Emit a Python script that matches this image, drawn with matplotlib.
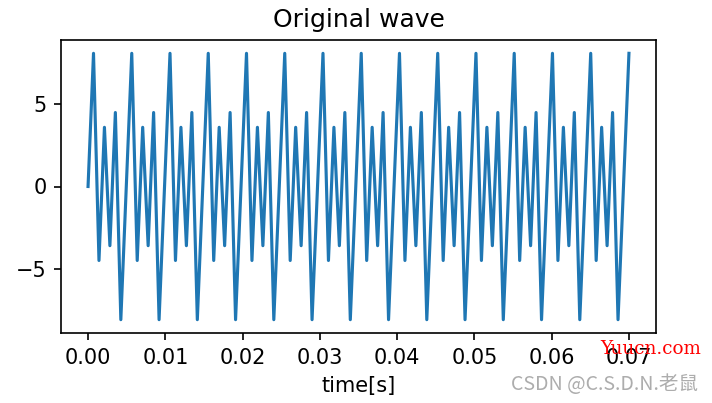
import numpy as np
import matplotlib
matplotlib.use("Agg")
import matplotlib.pyplot as plt

# time axis: 100 samples from 0 to 0.07 s
tStart = 0.0
tStop = 0.07
samplesNum = 100

wave = [
    0.0, 8.1, -4.5, 3.6, -3.6, 4.5, -8.1,
    0.0, 8.1, -4.5, 3.6, -3.6, 4.5, -8.1,
    0.0, 8.1, -4.5, 3.6, -3.6, 4.5, -8.1,
    0.0, 8.1, -4.5, 3.6, -3.6, 4.5, -8.1,
    0.0, 8.1, -4.5, 3.6, -3.6, 4.5, -8.1,
    0.0, 8.1, -4.5, 3.6, -3.6, 4.5, -8.1,
    0.0, 8.1, -4.5, 3.6, -3.6, 4.5, -8.1,
    0.0, 8.1, -4.5, 3.6, -3.6, 4.5, -8.1,
    0.0, 8.1, -4.5, 3.6, -3.6, 4.5, -8.1,
    0.0, 8.1, -4.5, 3.6, -3.6, 4.5, -8.1,
    0.0, 8.1, -4.5, 3.6, -3.6, 4.5, -8.1,
    0.0, 8.1, -4.5, 3.6, -3.6, 4.5, -8.1,
    0.0, 8.1, -4.5, 3.6, -3.6, 4.5, -8.1,
    0.0, 8.1, -4.5, 3.6, -3.6, 4.5, -8.1,
    0.0, 8.1,
]

t = np.linspace(tStart, tStop, samplesNum)

dpi = 150
fig = plt.figure(figsize=(712 / dpi, 403 / dpi), dpi=dpi)
ax = fig.add_axes([61 / 712, 1 - 333 / 403, 595 / 712, 293 / 403])
ax.plot(t, wave)
ax.set_title("Original wave")
ax.set_xlabel("time[s]")

# watermarks
fig.text(600 / 712, 1 - 349 / 403, "Yuucn.com", color="red",
         family="DejaVu Serif", fontsize=8.8, va="center")
fig.text(698 / 712, 1 - 384 / 403, "CSDN @C.S.D.N.老鼠", color="#adadad",
         family=["Liberation Sans Narrow", "Noto Sans CJK SC", "DejaVu Sans"],
         fontsize=9.4, ha="right", va="center")

fig.savefig("out.png", dpi=dpi)
